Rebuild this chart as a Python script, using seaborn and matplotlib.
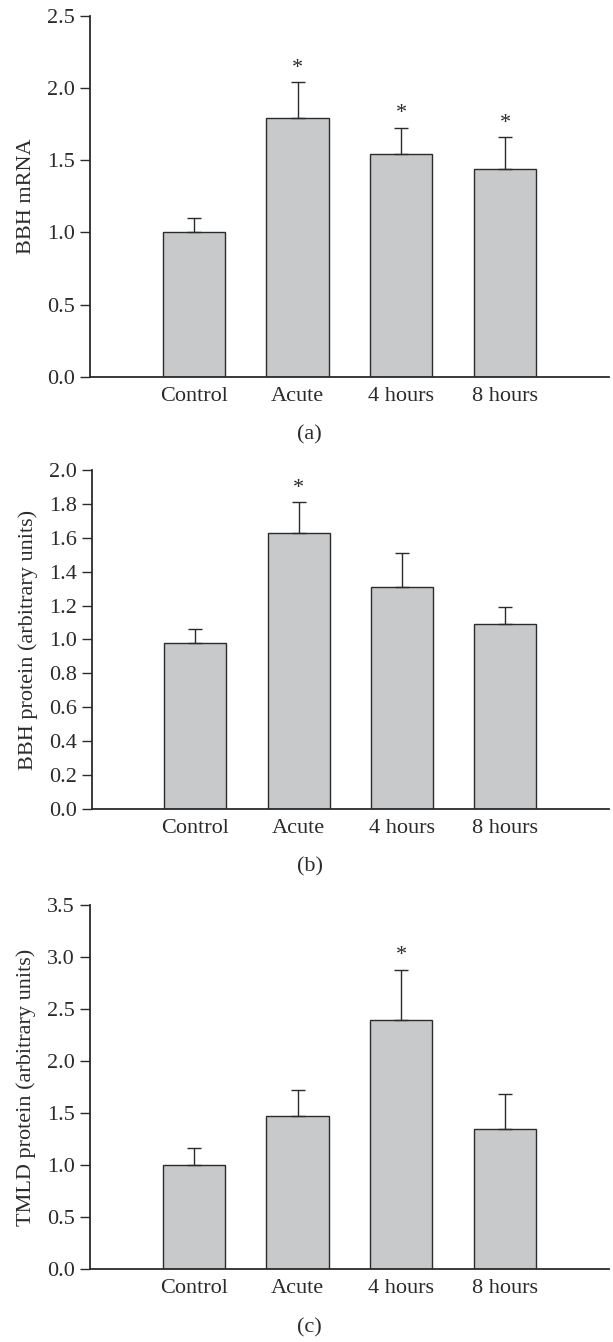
#!/usr/bin/env python3
import numpy as np
import pandas as pd
import seaborn as sns
import matplotlib.pyplot as plt
from matplotlib.ticker import FormatStrFormatter

groups = ["Control", "Acute", "4 hours", "8 hours"]

bbh_mrna = [1.00, 1.79, 1.545, 1.44]
bbh_mrna_sem = [0.10, 0.25, 0.18, 0.22]
bbh_mrna_sig = [False, True, True, True]

bbh_protein = [0.98, 1.63, 1.31, 1.09]
bbh_protein_sem = [0.08, 0.18, 0.20, 0.10]
bbh_protein_sig = [False, True, False, False]

tmld_protein = [1.00, 1.47, 2.39, 1.35]
tmld_protein_sem = [0.16, 0.25, 0.49, 0.33]
tmld_protein_sig = [False, False, True, False]

panels = [
    ("BBH mRNA", bbh_mrna, bbh_mrna_sem, bbh_mrna_sig, 2.5, 0.5, "(a)"),
    ("BBH protein (arbitrary units)", bbh_protein, bbh_protein_sem, bbh_protein_sig, 2.0, 0.2, "(b)"),
    ("TMLD protein (arbitrary units)", tmld_protein, tmld_protein_sem, tmld_protein_sig, 3.5, 0.5, "(c)"),
]

# axes boxes in figure fraction (left, bottom, width, height)
boxes = [
    (0.147, 0.7191, 0.846, 0.2692),
    (0.150, 0.3972, 0.843, 0.2526),
    (0.147, 0.0544, 0.846, 0.2712),
]
caption_y = [1 - 435 / 1342, 1 - 867 / 1342, 1 - 1328 / 1342]

sns.set_style("white")
plt.rcParams['font.family'] = ['Liberation Serif', 'DejaVu Serif']
ink = "#2b2b2b"
fill = "#c8c9cb"
fs = 16

fig = plt.figure(figsize=(6.13, 13.42), dpi=100)

for (ylab, means, sem, sig, ymax, step, cap), box, cy in zip(panels, boxes, caption_y):
    ax = fig.add_axes(box)
    df = pd.DataFrame({"group": groups, "value": means})
    sns.barplot(data=df, x="group", y="value", color=fill, width=0.6,
                edgecolor=ink, linewidth=1.0, errorbar=None, saturation=1, ax=ax)
    x = np.arange(len(groups))
    # only the upper half of each error bar is drawn
    ax.errorbar(x, means, yerr=[np.zeros(len(sem)), sem], fmt="none",
                ecolor=ink, elinewidth=1.0, capsize=5, capthick=1.0, zorder=3)
    for xi, m, s, flag in zip(x, means, sem, sig):
        if flag:
            ax.text(xi, m + s + ymax * 0.012, "*", ha="center", va="bottom",
                    fontsize=fs, color=ink)
    ax.set_xlim(-1, 4)
    ax.set_ylim(0, ymax)
    ax.set_yticks(np.round(np.arange(0, ymax + step / 2, step), 2))
    ax.yaxis.set_major_formatter(FormatStrFormatter("%.1f"))
    ax.set_xlabel("")
    ax.set_ylabel(ylab, fontsize=fs, color=ink, labelpad=8)
    sns.despine(ax=ax)
    for side in ["left", "bottom"]:
        ax.spines[side].set_color(ink)
        ax.spines[side].set_linewidth(1.3)
    ax.tick_params(axis="y", direction="out", length=7, width=1.0, color=ink,
                   labelsize=fs, labelcolor=ink, left=True, pad=4)
    ax.tick_params(axis="x", length=0, labelsize=fs, labelcolor=ink, pad=7)
    fig.text(0.505, cy, cap, ha="center", va="center", fontsize=fs, color=ink)

fig.savefig("out.png", dpi=100)
